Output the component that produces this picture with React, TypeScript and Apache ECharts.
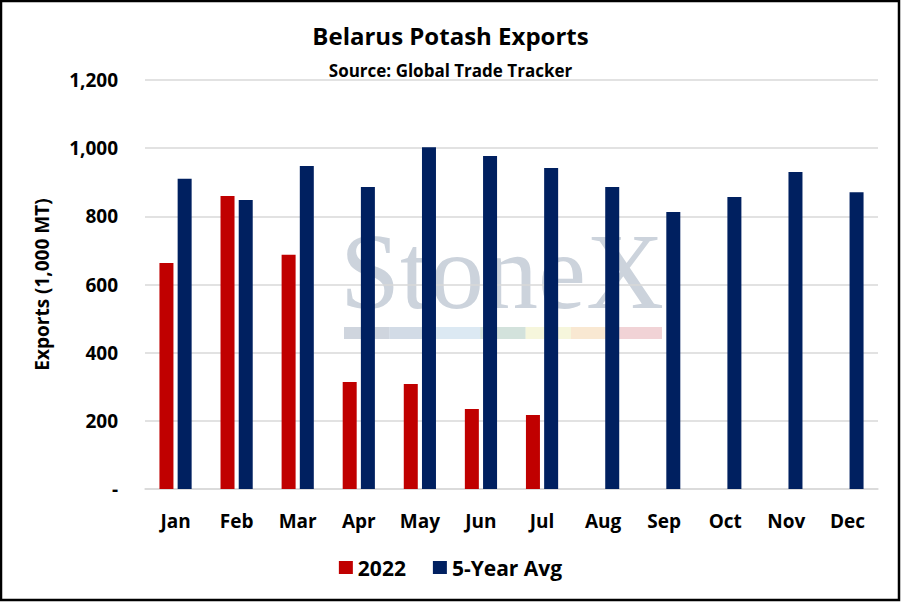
import React, { useEffect, useRef } from "react";
import * as echarts from "echarts";

const months = ["Jan", "Feb", "Mar", "Apr", "May", "Jun", "Jul", "Aug", "Sep", "Oct", "Nov", "Dec"];
const exports2022: (number | null)[] = [663, 860, 687, 314, 308, 235, 217, null, null, null, null, null];
const fiveYearAvg = [910, 848, 948, 886, 1003, 977, 942, 886, 813, 857, 930, 871];
const yTicks = [0, 200, 400, 600, 800, 1000, 1200];
const stripColors = ["#cfd5de", "#d2dbe6", "#dce9f3", "#d3e2dc", "#f6f6dc", "#f9e8d2", "#f1d3d6"];

const FONT = "'Open Sans', sans-serif";

export default function App() {
  const ref = useRef<HTMLDivElement>(null);
  useEffect(() => {
    if (!ref.current) return;
    const chart = echarts.init(ref.current, null, { renderer: "svg" });
    const stripEls = stripColors.map((c, i) => ({
      type: "rect",
      z: -10,
      shape: { x: 344 + i * 45.4, y: 327, width: 45.6, height: 12 },
      style: { fill: c },
    }));
    chart.setOption({
      animation: false,
      backgroundColor: "#ffffff",
      title: [
        {
          text: "Belarus Potash Exports",
          left: "center",
          top: 18,
          textStyle: { fontFamily: FONT, fontSize: 24, fontWeight: "bold", color: "#000" },
        },
        {
          text: "Source: Global Trade Tracker",
          left: "center",
          top: 57,
          textStyle: { fontFamily: FONT, fontSize: 17, fontWeight: "bold", color: "#000" },
        },
      ],
      graphic: [
        {
          type: "text",
          z: -10,
          x: 340,
          y: 271,
          style: {
            text: "StoneX",
            font: "108px 'Liberation Serif', serif",
            fill: "#ccd3dc",
            textAlign: "left",
            textVerticalAlign: "middle",
          },
        },
        ...stripEls,
        {
          type: "rect",
          z: 100,
          shape: { x: 1, y: 1, width: 898, height: 599 },
          style: { fill: "none", stroke: "#000", lineWidth: 2.5 },
        },
      ],
      legend: {
        data: ["2022", "5-Year Avg"],
        bottom: 19,
        left: "center",
        itemWidth: 14,
        itemHeight: 13,
        itemGap: 27,
        icon: "rect",
        textStyle: { fontFamily: FONT, fontSize: 21, fontWeight: "bold", color: "#000" },
      },
      grid: { left: 145, right: 23, top: 80, bottom: 113 },
      xAxis: {
        type: "category",
        data: months,
        axisTick: { show: false },
        axisLine: { lineStyle: { color: "#d9d9d9", width: 1.5 } },
        axisLabel: { fontFamily: FONT, fontSize: 19, fontWeight: "bold", color: "#000", margin: 22 },
      },
      yAxis: {
        type: "value",
        min: yTicks[0],
        max: yTicks[yTicks.length - 1],
        interval: 200,
        name: "Exports (1,000 MT)",
        nameLocation: "middle",
        nameGap: 94,
        nameTextStyle: { fontFamily: FONT, fontSize: 19, fontWeight: "bold", color: "#000" },
        axisLabel: {
          fontFamily: FONT,
          fontSize: 19,
          fontWeight: "bold",
          color: "#000",
          margin: 27,
          formatter: (v: number) => (v === 0 ? "-" : v.toLocaleString("en-US")),
        },
        splitLine: { lineStyle: { color: "#d9d9d9", width: 1.5 } },
      },
      series: [
        {
          name: "2022",
          type: "bar",
          data: exports2022,
          barWidth: 14,
          barGap: "30%",
          itemStyle: { color: "#c00000" },
        },
        {
          name: "5-Year Avg",
          type: "bar",
          data: fiveYearAvg,
          barWidth: 14,
          barGap: "30%",
          itemStyle: { color: "#002060" },
        },
      ],
    });
    return () => chart.dispose();
  }, []);
  return <div ref={ref} style={{ position: "absolute", left: 0, top: 0, width: 901, height: 602 }} />;
}
